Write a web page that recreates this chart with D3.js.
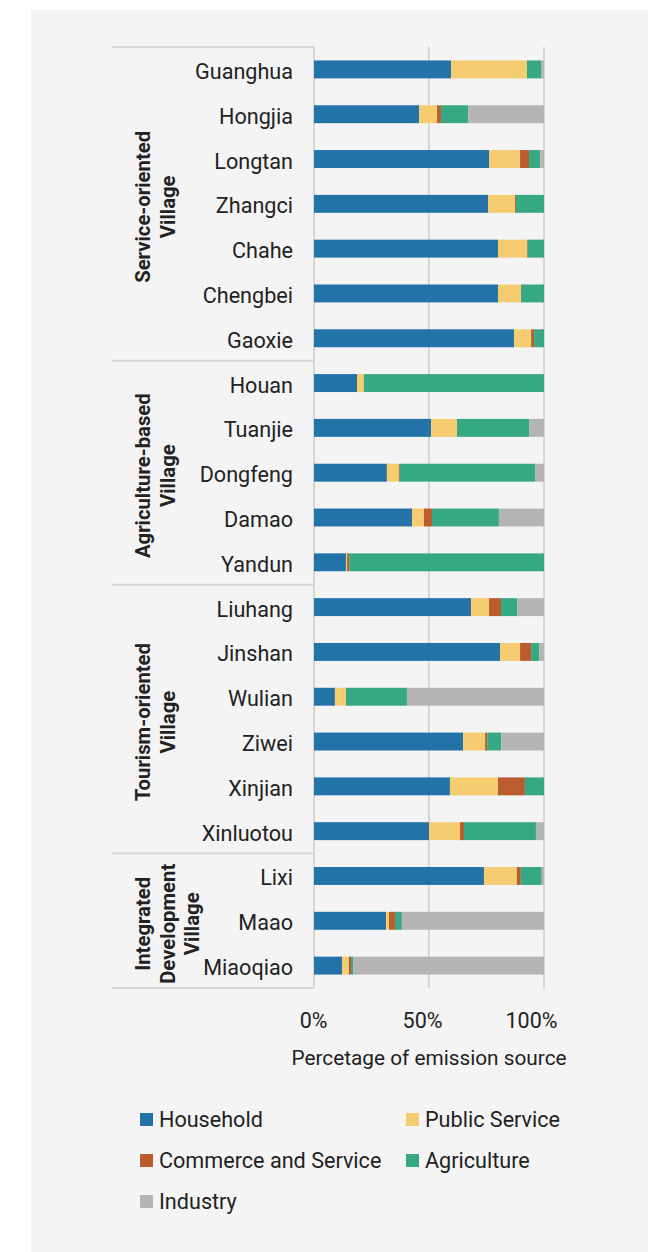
<!DOCTYPE html>
<html>
<head>
<meta charset="utf-8">
<script src="https://cdn.jsdelivr.net/npm/d3@7/dist/d3.min.js"></script>
<style>
  html, body { margin: 0; padding: 0; background: #ffffff; }
  svg { display: block; }
  text { font-family: Roboto, "Noto Sans", sans-serif; fill: #222222; }
</style>
</head>
<body>
<svg id="chart" width="655" height="1252"></svg>
<script>
// Villages, top to bottom, grouped by village type
const villages = ["Guanghua", "Hongjia", "Longtan", "Zhangci", "Chahe", "Chengbei", "Gaoxie",
  "Houan", "Tuanjie", "Dongfeng", "Damao", "Yandun",
  "Liuhang", "Jinshan", "Wulian", "Ziwei", "Xinjian", "Xinluotou",
  "Lixi", "Maao", "Miaoqiao"];

// Share of each emission source (%)
const household     = [59.6, 45.7, 76.1, 75.7, 80.0, 80.0, 87.0, 18.7, 50.9, 31.7, 42.6, 13.9, 68.3, 80.9, 9.1, 64.8, 59.1, 50.0, 73.9, 31.3, 12.2];
const publicService = [33.0, 7.8, 13.5, 11.7, 12.6, 10.0, 7.4, 3.0, 11.3, 5.2, 5.2, 0.5, 7.8, 8.7, 4.8, 9.6, 20.9, 13.5, 14.3, 1.3, 3.0];
const commerce      = [0.0, 1.7, 3.9, 0.4, 0.3, 0.0, 1.3, 0.0, 0.0, 0.4, 3.5, 0.9, 5.2, 4.8, 0.0, 0.9, 11.7, 1.7, 1.7, 2.6, 0.9];
const agriculture   = [6.1, 11.8, 4.8, 12.2, 7.1, 10.0, 4.3, 78.3, 31.3, 58.8, 29.1, 84.7, 7.0, 3.5, 26.5, 6.1, 8.3, 31.3, 9.1, 3.0, 0.9];
const industry      = [1.3, 33.0, 1.7, 0.0, 0.0, 0.0, 0.0, 0.0, 6.5, 3.9, 19.6, 0.0, 11.7, 2.1, 59.6, 18.6, 0.0, 3.5, 1.0, 61.8, 83.0];

const seriesNames = ["Household", "Public Service", "Commerce and Service", "Agriculture", "Industry"];
const seriesColors = ["#2372a8", "#f5cc70", "#bb5c2e", "#36a884", "#b5b5b6"];

const groupLabels = [["Service-oriented", "Village"], ["Agriculture-based", "Village"],
  ["Tourism-oriented", "Village"], ["Integrated", "Development", "Village"]];
const groupSizes = [7, 5, 6, 3];

const tickValues = [0, 50, 100];
const tickLabels = ["0%", "50%", "100%"];
const axisTitle = "Percetage of emission source";

// Layout
const svg = d3.select("#chart");
const LABEL_FONT = 21.6;
const GRID = "#d6d6d6";

svg.append("rect").attr("x", 31).attr("y", 10).attr("width", 617).attr("height", 1242).attr("fill", "#f4f4f4");

const x = d3.scaleLinear().domain([0, 100]).range([314, 544]);
const y = d3.scaleBand().domain(villages).range([47, 988]).paddingInner(0.6).paddingOuter(0.3);
const step = y.step();
const plotTop = y.range()[0], plotBottom = y.range()[1];

// Gridlines and the zero axis line
svg.append("g").selectAll("line").data(tickValues).join("line")
  .attr("x1", d => x(d)).attr("x2", d => x(d))
  .attr("y1", plotTop).attr("y2", plotBottom)
  .attr("stroke", GRID).attr("stroke-width", 2);

// Group separators on the category axis
const boundaries = [0];
groupSizes.forEach(n => boundaries.push(boundaries[boundaries.length - 1] + n));
svg.append("g").selectAll("line").data(boundaries).join("line")
  .attr("x1", 112).attr("x2", x(0))
  .attr("y1", d => plotTop + d * step).attr("y2", d => plotTop + d * step)
  .attr("stroke", GRID).attr("stroke-width", 2);

// Stacked bars
const rows = villages.map((v, i) => ({
  village: v,
  "Household": household[i],
  "Public Service": publicService[i],
  "Commerce and Service": commerce[i],
  "Agriculture": agriculture[i],
  "Industry": industry[i]
}));
const stacked = d3.stack().keys(seriesNames)(rows);

svg.append("g").selectAll("g").data(stacked).join("g")
  .attr("fill", (d, i) => seriesColors[i])
  .selectAll("rect").data(d => d).join("rect")
  .attr("x", d => x(d[0]))
  .attr("width", d => Math.max(0, x(d[1]) - x(d[0])))
  .attr("y", d => y(d.data.village))
  .attr("height", y.bandwidth());

// Village labels
svg.append("g").selectAll("text").data(villages).join("text")
  .attr("x", 293)
  .attr("y", d => y(d) + y.bandwidth() / 2 + 9.5)
  .attr("text-anchor", "end")
  .attr("font-size", LABEL_FONT)
  .text(d => d);

// Rotated group labels
groupLabels.forEach((lines, gi) => {
  const y0 = plotTop + boundaries[gi] * step, y1 = plotTop + boundaries[gi + 1] * step;
  const cy = (y0 + y1) / 2 + 3;
  const t = svg.append("text")
    .attr("transform", `translate(150,${cy}) rotate(-90)`)
    .attr("text-anchor", "middle")
    .attr("font-size", 20.3)
    .attr("font-weight", "bold");
  lines.forEach((ln, li) => {
    t.append("tspan").attr("x", 0).attr("y", li * 24.5).text(ln);
  });
});

// Value axis tick labels (right-aligned just past each gridline) and title
svg.append("g").selectAll("text").data(tickValues).join("text")
  .attr("x", d => x(d) + 13.5).attr("y", 1028)
  .attr("text-anchor", "end").attr("font-size", 21.5)
  .text((d, i) => tickLabels[i]);

svg.append("text")
  .attr("x", (x(0) + x(100)) / 2).attr("y", 1065)
  .attr("text-anchor", "middle").attr("font-size", 20.8)
  .text(axisTitle);

// Legend
const legendPos = [[140, 1113], [406, 1113], [140, 1154], [406, 1154], [140, 1195]];
const legend = svg.append("g").selectAll("g").data(seriesNames).join("g")
  .attr("transform", (d, i) => `translate(${legendPos[i][0]},${legendPos[i][1]})`);
legend.append("rect").attr("width", 13).attr("height", 13).attr("fill", (d, i) => seriesColors[i]);
legend.append("text").attr("x", 19).attr("y", 13.5).attr("font-size", LABEL_FONT).text(d => d);
</script>
</body>
</html>
